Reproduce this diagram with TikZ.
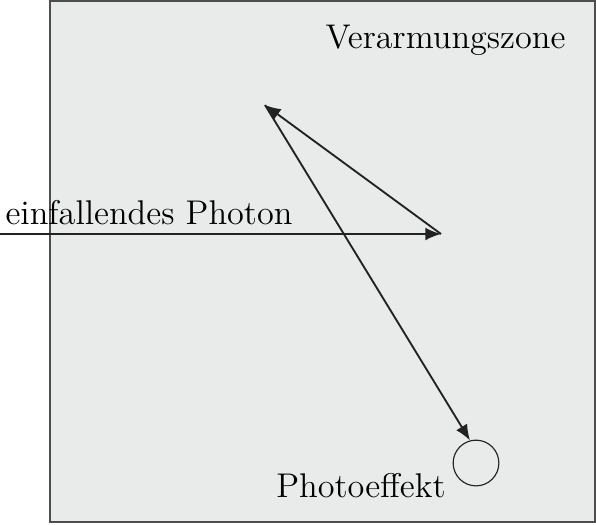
\documentclass[tikz,border=0pt]{standalone}
\usetikzlibrary{arrows.meta}

\definecolor{zonegray}{HTML}{E9EAEA}
\definecolor{linegray}{HTML}{222222}

\begin{document}
\begin{tikzpicture}[x=0.35pt,y=-0.35pt,
  every node/.style={font=\large},
  ray/.style={draw=linegray,line width=0.65pt,-{Latex[length=5.5pt,width=4.5pt]}}]
  \useasboundingbox (0,0) rectangle (596,524);

  %--- depletion zone
  \draw[fill=zonegray,draw=linegray!80,line width=0.5pt] (50,1) rectangle (595,522);
  \node[anchor=east,inner sep=0pt] (zone) at (566,40) {Verarmungszone};

  %--- points of the photon path
  \coordinate (src) at (0,234);
  \coordinate (hitA) at (441,234);
  \coordinate (hitB) at (265,105);
  \node[draw=linegray,circle,line width=0.4pt,minimum size=16pt,inner sep=0pt] (electron) at (476,463) {};

  % incoming photon and its reflections
  \draw[ray] (src) -- (hitA);
  \draw[ray] (hitA) -- (hitB);
  \draw[ray] (hitB) -- (electron.105);

  %--- labels
  \node[anchor=base west,inner sep=0pt] (photon) at (5,224) {einfallendes Photon};
  \node[anchor=base,inner sep=0pt] (effect) at (361,497) {Photoeffekt};
\end{tikzpicture}
\end{document}
